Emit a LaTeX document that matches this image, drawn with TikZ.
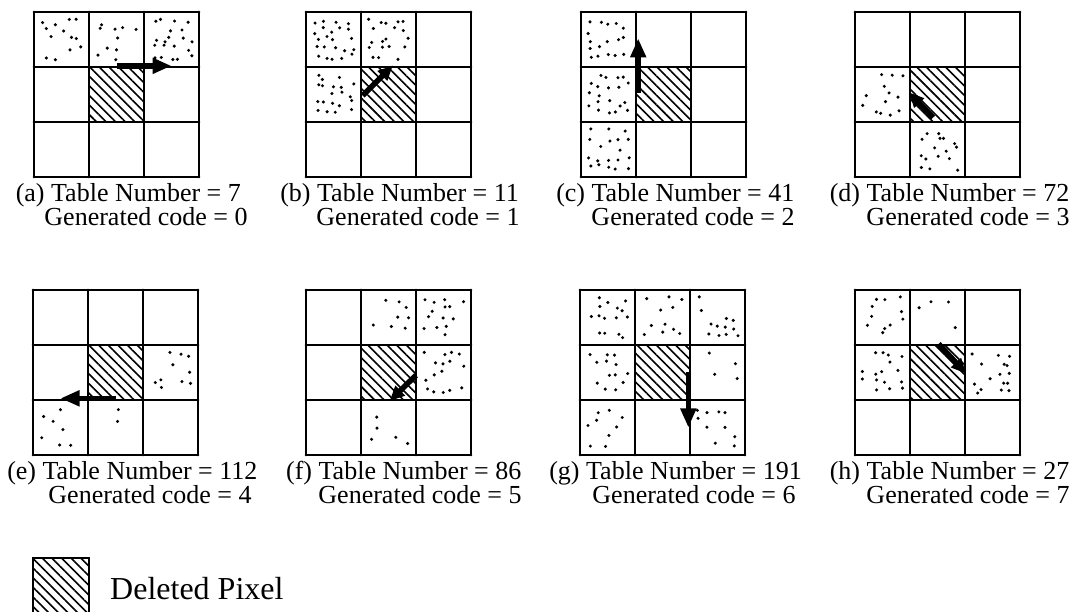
\documentclass[tikz,border=0pt]{standalone}
\usepackage{fontspec}
\setmainfont{Liberation Serif}
\usetikzlibrary{patterns.meta,arrows.meta}
\tikzset{
  gridline/.style={line width=2.9pt, line cap=round},
  hatch/.style={pattern={Lines[angle=-45,distance=6.8pt,line width=1.6pt]}},
  dirarrow/.style={line width=5.5pt, -{Triangle[length=19pt,width=15pt]}},
  diagarrow/.style={line width=5.5pt, -{Triangle[length=15pt,width=13pt]}},
  lab/.style={anchor=base, inner sep=0pt, font=\fontsize{26}{26}\selectfont},
  panel/.style={x=55pt, y=55pt},
}
% stippled cell: jittered 5x5 lattice, each site kept with probability #3
\newcommand{\stip}[3]{%
  \foreach \ii in {0,...,4}{\foreach \jj in {0,...,4}{%
    \pgfmathparse{rnd<#3 ? 1 : 0}%
    \ifnum\pgfmathresult=1
      \pgfmathsetmacro{\dx}{#1+0.1+0.8*(\ii+0.5+0.7*(rnd-0.5))/5}%
      \pgfmathsetmacro{\dy}{-#2-0.1-0.8*(\jj+0.5+0.7*(rnd-0.5))/5}%
      \fill (\dx,\dy) circle[radius=1.7pt];
    \fi}}}
\newcommand{\panelgrid}{%
  \fill[hatch] (1,-1) rectangle (2,-2);
  \foreach \i in {0,1,2,3} {\draw[gridline] (\i,0) -- (\i,-3); \draw[gridline] (0,-\i) -- (3,-\i);}}
\begin{document}
\begin{tikzpicture}[x=1pt,y=1pt]
\useasboundingbox (0,0) rectangle (1078,612);
\pgfmathsetseed{2718}
% ---------- row 1 ----------
\begin{scope}[shift={(34pt,600pt)},panel]
  \stip{0}{0}{0.55}\stip{1}{0}{0.4}\stip{2}{0}{0.7}
  \panelgrid
  \draw[dirarrow] (1.5,-0.98) -- (2.5,-0.98);
\end{scope}
\begin{scope}[shift={(306pt,600pt)},panel]
  \stip{0}{0}{0.9}\stip{1}{0}{0.7}\stip{0}{1}{0.85}
  \panelgrid
  \draw[diagarrow] (1.03,-1.52) -- (1.58,-0.97);
\end{scope}
\begin{scope}[shift={(581pt,600pt)},panel]
  \stip{0}{0}{0.7}\stip{0}{1}{0.8}\stip{0}{2}{0.7}
  \panelgrid
  \draw[dirarrow] (1.04,-1.47) -- (1.04,-0.48);
\end{scope}
\begin{scope}[shift={(855pt,600pt)},panel]
  \stip{0}{1}{0.6}\stip{1}{2}{0.6}
  \panelgrid
  \draw[diagarrow] (1.42,-1.92) -- (0.98,-1.46);
\end{scope}
\node[lab] (la1) at (146,410) {\llap{(a) }Table Number = 7};
\node[lab] (la2) at (146,386) {Generated code = 0};
\node[lab] (lb1) at (418,410) {\llap{(b) }Table Number = 11};
\node[lab] (lb2) at (418,386) {Generated code = 1};
\node[lab] (lc1) at (693,410) {\llap{(c) }Table Number = 41};
\node[lab] (lc2) at (693,386) {Generated code = 2};
\node[lab] (ld1) at (968,410) {\llap{(d) }Table Number = 72};
\node[lab] (ld2) at (968,386) {Generated code = 3};
% ---------- row 2 ----------
\begin{scope}[shift={(33pt,322pt)},panel]
  \stip{2}{1}{0.45}\stip{0}{2}{0.32}\stip{1}{2}{0.16}
  \panelgrid
  \draw[dirarrow] (1.5,-1.97) -- (0.5,-1.97);
\end{scope}
\begin{scope}[shift={(306pt,322pt)},panel]
  \stip{1}{0}{0.36}\stip{2}{0}{0.55}\stip{2}{1}{0.48}\stip{1}{2}{0.16}
  \panelgrid
  \draw[diagarrow] (2.0,-1.55) -- (1.52,-2.02);
\end{scope}
\begin{scope}[shift={(580pt,322pt)},panel]
  \stip{0}{0}{0.48}\stip{1}{0}{0.44}\stip{2}{0}{0.44}\stip{0}{1}{0.62}\stip{2}{1}{0.2}\stip{0}{2}{0.4}\stip{2}{2}{0.4}
  \panelgrid
  \draw[dirarrow] (1.97,-1.5) -- (1.97,-2.5);
\end{scope}
\begin{scope}[shift={(855pt,322pt)},panel]
  \stip{0}{0}{0.48}\stip{1}{0}{0.4}\stip{0}{1}{0.6}\stip{2}{1}{0.6}
  \panelgrid
  \draw[diagarrow] (1.52,-0.98) -- (2.02,-1.52);
\end{scope}
\node[lab] (le1) at (150,132) {\llap{(e) }Table Number = 112};
\node[lab] (le2) at (150,108) {Generated code = 4};
\node[lab] (lf1) at (420,132) {\llap{(f) }Table Number = 86};
\node[lab] (lf2) at (420,108) {Generated code = 5};
\node[lab] (lg1) at (694,132) {\llap{(g) }Table Number = 191};
\node[lab] (lg2) at (694,108) {Generated code = 6};
\node[lab] (lh1) at (968,132) {\llap{(h) }Table Number = 27};
\node[lab] (lh2) at (968,108) {Generated code = 7};
% ---------- legend ----------
\fill[hatch] (33,-10) rectangle (89,54);
\draw[gridline] (33,-10) rectangle (89,54);
\node[anchor=base west, inner sep=0pt, font=\fontsize{32}{32}\selectfont] (legend) at (110,12) {Deleted Pixel};
\end{tikzpicture}
\end{document}
